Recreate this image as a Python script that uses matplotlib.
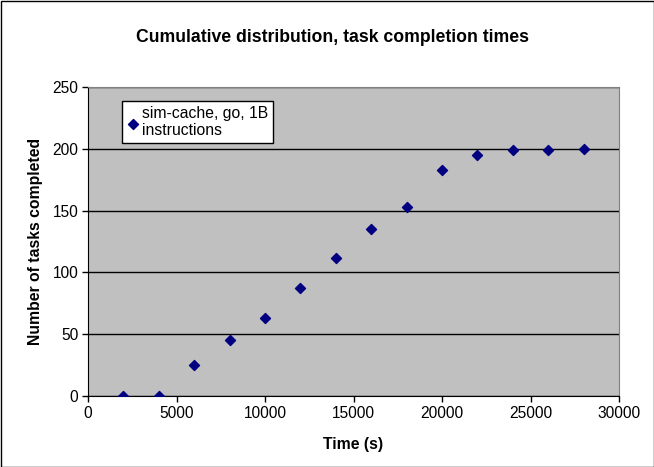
import matplotlib.pyplot as plt
from matplotlib.patches import Rectangle

plt.rcParams['font.family'] = ['Liberation Sans', 'DejaVu Sans']

times = [2000, 4000, 6000, 8000, 10000, 12000, 14000, 16000, 18000, 20000, 22000, 24000, 26000, 28000]
tasks = [0, 0, 25, 45, 63, 87, 112, 135, 153, 183, 195, 199, 199, 200]
x_ticks = [0, 5000, 10000, 15000, 20000, 25000, 30000]
y_ticks = [0, 50, 100, 150, 200, 250]

W, H = 654, 467
fig = plt.figure(figsize=(W/100, H/100), dpi=100)
left, right, top, bottom = 88, 619, 87, 396
ax = fig.add_axes([left/W, 1-bottom/H, (right-left)/W, (bottom-top)/H])
ax.set_facecolor("#C0C0C0")

ax.scatter(times, tasks, marker="D", s=26, color="#000080", zorder=3,
           label="sim-cache, go, 1B\ninstructions")

ax.set_xlim(0, 30000)
ax.set_ylim(0, 250)
ax.set_xticks(x_ticks)
ax.set_yticks(y_ticks)
ax.tick_params(labelsize=11.2, direction="out", length=4, width=1, pad=3)
ax.yaxis.grid(True, color="black", linewidth=1)
ax.set_axisbelow(True)

for s in ["left", "bottom"]:
    ax.spines[s].set_color("black")
for s in ["top", "right"]:
    ax.spines[s].set_color("#808080")

ax.set_xlabel("Time (s)", fontsize=11.3, fontweight="bold", labelpad=12)
ax.set_ylabel("Number of tasks completed", fontsize=11.3, fontweight="bold", labelpad=7)
fig.text(333/W, 1-37/H, "Cumulative distribution, task completion times",
         ha="center", va="center", fontsize=12.7, fontweight="bold")

leg = ax.legend(loc="upper left", bbox_to_anchor=((122-left)/(right-left), 1-(101-top)/(bottom-top)),
                frameon=True, fancybox=False, fontsize=11.3, handletextpad=0.2,
                borderpad=0.3, handlelength=0.8, borderaxespad=0, labelspacing=0.35)
leg.get_frame().set_edgecolor("black")
leg.get_frame().set_facecolor("white")
leg.get_frame().set_alpha(1)
leg.get_frame().set_linewidth(1)

fig.patches.append(Rectangle((0.5/W, 0.5/H), 1-1/W, 1-1/H, transform=fig.transFigure,
                             fill=False, edgecolor="black", linewidth=1))

fig.savefig("out.png", dpi=100)
